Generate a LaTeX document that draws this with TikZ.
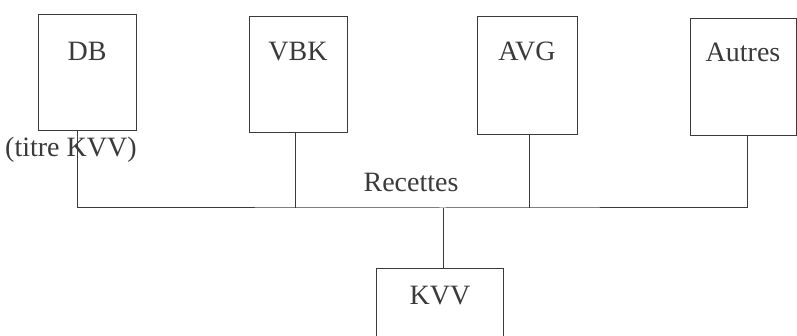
\documentclass[tikz,border=0pt]{standalone}
\usepackage{fontspec}
\setmainfont{Liberation Serif}
\usepackage{tikz}
\usetikzlibrary{calc,positioning}
\definecolor{inkGray}{HTML}{3A3A3A}
\tikzset{
  kvvBox/.style={draw=inkGray, line width=1pt, text=inkGray, inner xsep=0pt, inner ysep=0pt, font=\fontsize{28}{30}\selectfont, anchor=north},
  kvvLine/.style={draw=inkGray, line width=1pt},
  kvvLabel/.style={text=inkGray, inner sep=0pt, font=\fontsize{28}{30}\selectfont, anchor=base}
}
\begin{document}
\begin{tikzpicture}[x=1pt, y=-1pt]
      \useasboundingbox (0,0) rectangle (797,336);
      \node[kvvBox, minimum width=98pt, text height=46pt, text depth=70pt] (db) at (87,14) {DB};
      \node[kvvBox, minimum width=98pt, text height=44pt, text depth=72pt] (vbk) at (298,16) {VBK};
      \node[kvvBox, minimum width=100pt, text height=44pt, text depth=74pt] (avg) at (527,16) {AVG};
      \node[kvvBox, minimum width=106pt, text height=43pt, text depth=74pt] (autres) at (743,18) {Autres};
      \node[kvvBox, minimum width=127pt, text height=36pt, text depth=56pt] (kvv) at (440,268) {KVV};
      \node[kvvLabel, anchor=base west] (titre) at (5,157) {(titre KVV)};
      \node[kvvLabel] (recettes) at (411,192) {Recettes};
      \coordinate (bus) at (443,208);
      \draw[kvvLine] ([xshift=-10pt]db.south) |- (bus) -| ([xshift=4pt]autres.south);
      \draw[kvvLine] ([xshift=-3pt]vbk.south) -- ([xshift=-3pt]vbk.south |- bus);
      \draw[kvvLine] ([xshift=2pt]avg.south) -- ([xshift=2pt]avg.south |- bus);
      \draw[kvvLine] (bus) -- (bus |- kvv.north);
    \end{tikzpicture}
\end{document}
